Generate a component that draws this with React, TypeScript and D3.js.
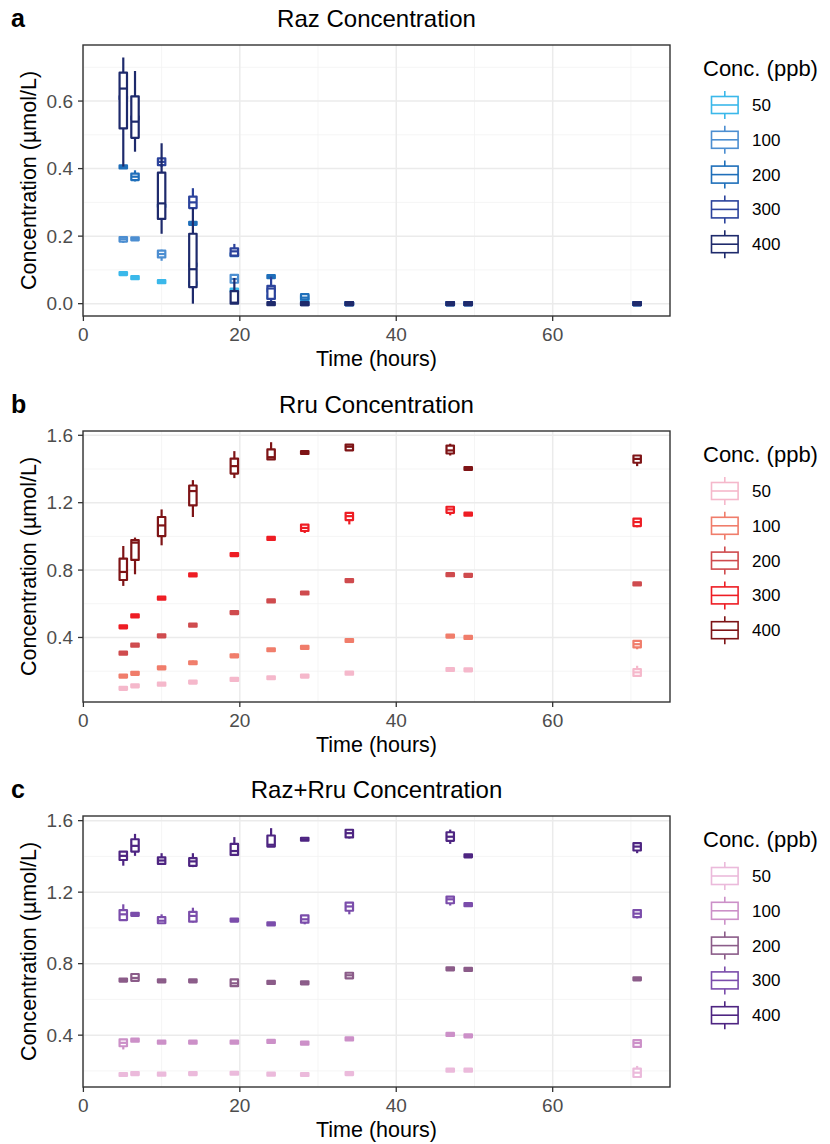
import React from 'react';
import * as d3 from 'd3';

type Box = number | number[];

const times = [5.1, 6.6, 10, 14, 19.3, 24, 28.3, 34, 46.9, 49.2, 70.8];
const levels = ['50', '100', '200', '300', '400'];
const xTicks = [0, 20, 40, 60];
const xMinor = [10, 30, 50, 70];

// Raz (panel a) - [min, q1, median, q3, max] or a single value for a tight box
const raz50: Box[] = [0.089, 0.077, 0.065, 0.06, 0.04, 0.02, 0.01, 0, 0, 0, 0];
const raz100: Box[] = [[0.18, 0.184, 0.191, 0.197, 0.198], 0.192, [0.127, 0.137, 0.147, 0.157, 0.16], 0.115, [0.06, 0.062, 0.073, 0.085, 0.088], 0.04, 0.02, 0, 0, 0, 0];
const raz200: Box[] = [0.405, [0.362, 0.366, 0.376, 0.385, 0.395], 0.29, 0.238, 0.145, [0.076, 0.078, 0.08, 0.083, 0.085], [0.01, 0.012, 0.018, 0.028, 0.03], 0, 0, 0, 0];
const raz300: Box[] = [0.61, 0.55, [0.405, 0.41, 0.42, 0.43, 0.432], [0.28, 0.283, 0.3, 0.317, 0.342], [0.14, 0.142, 0.155, 0.164, 0.177], [0, 0.014, 0.045, 0.053, 0.08], 0, 0, 0, 0, 0];
const raz400: Box[] = [[0.406, 0.519, 0.637, 0.684, 0.729], [0.45, 0.491, 0.539, 0.614, 0.689], [0.207, 0.251, 0.297, 0.388, 0.475], [0, 0.049, 0.102, 0.207, 0.283], [0, 0, 0.003, 0.037, 0.076], 0, 0, 0, 0, 0, 0];

// Rru (panel b)
const rru50: Box[] = [0.098, 0.113, 0.123, 0.135, 0.151, 0.161, 0.171, 0.188, 0.21, 0.208, [0.172, 0.172, 0.193, 0.212, 0.232]];
const rru100: Box[] = [[0.16, 0.163, 0.171, 0.178, 0.18], [0.18, 0.182, 0.187, 0.193, 0.198], [0.212, 0.214, 0.22, 0.228, 0.232], [0.243, 0.245, 0.25, 0.258, 0.263], [0.284, 0.286, 0.291, 0.298, 0.305], 0.327, 0.341, 0.382, 0.408, 0.4, [0.33, 0.341, 0.36, 0.38, 0.38]];
const rru200: Box[] = [0.307, 0.354, [0.402, 0.404, 0.41, 0.416, 0.42], 0.473, [0.54, 0.542, 0.548, 0.556, 0.562], 0.617, 0.664, [0.732, 0.734, 0.738, 0.745, 0.748], 0.773, 0.769, [0.712, 0.713, 0.718, 0.724, 0.727]];
const rru300: Box[] = [[0.457, 0.459, 0.463, 0.468, 0.47], 0.528, [0.628, 0.63, 0.633, 0.639, 0.64], [0.765, 0.767, 0.771, 0.777, 0.777], [0.886, 0.888, 0.892, 0.897, 0.897], [0.982, 0.984, 0.988, 0.996, 0.996], [1.02, 1.032, 1.05, 1.07, 1.07], [1.071, 1.097, 1.12, 1.14, 1.14], [1.125, 1.14, 1.16, 1.176, 1.176], 1.132, [1.054, 1.061, 1.085, 1.105, 1.105]];
const rru400: Box[] = [[0.706, 0.741, 0.789, 0.868, 0.943], [0.775, 0.86, 0.963, 0.978, 0.993], [0.947, 1.002, 1.065, 1.115, 1.16], [1.115, 1.184, 1.269, 1.302, 1.334], [1.346, 1.373, 1.417, 1.462, 1.506], [1.457, 1.457, 1.47, 1.516, 1.559], 1.498, [1.511, 1.511, 1.532, 1.545, 1.545], [1.48, 1.492, 1.51, 1.539, 1.55], 1.403, [1.417, 1.437, 1.46, 1.48, 1.48]];

// Raz+Rru (panel c)
const sum50: Box[] = [0.18, 0.185, 0.182, 0.185, 0.187, 0.182, 0.18, 0.185, 0.204, 0.204, [0.166, 0.166, 0.19, 0.213, 0.228]];
const sum100: Box[] = [[0.32, 0.338, 0.357, 0.376, 0.376], 0.372, 0.361, 0.361, 0.361, 0.365, 0.355, 0.379, 0.404, 0.396, [0.33, 0.334, 0.356, 0.372, 0.372]];
const sum200: Box[] = [0.708, [0.704, 0.704, 0.72, 0.742, 0.742], 0.704, 0.704, [0.67, 0.674, 0.69, 0.712, 0.712], 0.695, 0.693, [0.718, 0.718, 0.735, 0.749, 0.749], 0.771, 0.768, 0.715];
const sum300: Box[] = [[1.044, 1.044, 1.076, 1.1, 1.132], 1.076, [1.026, 1.026, 1.04, 1.06, 1.076], [1.03, 1.035, 1.067, 1.09, 1.113], 1.044, 1.022, [1.02, 1.029, 1.048, 1.07, 1.07], [1.076, 1.096, 1.12, 1.141, 1.141], [1.125, 1.138, 1.16, 1.175, 1.175], 1.13, [1.053, 1.06, 1.08, 1.1, 1.1]];
const sum400: Box[] = [[1.348, 1.38, 1.403, 1.427, 1.427], [1.403, 1.427, 1.459, 1.496, 1.526], [1.358, 1.358, 1.377, 1.395, 1.418], [1.34, 1.347, 1.372, 1.39, 1.418], [1.408, 1.408, 1.43, 1.47, 1.508], [1.455, 1.455, 1.465, 1.517, 1.558], 1.496, [1.5, 1.506, 1.53, 1.549, 1.549], [1.47, 1.487, 1.51, 1.535, 1.55], 1.403, [1.418, 1.433, 1.455, 1.474, 1.474]];

const bluePal = ['#3bb8ea', '#4c8ed1', '#1f6fba', '#2c439c', '#1e2a6c'];
const redPal = ['#f5b8cb', '#f07d6b', '#cf4b4e', '#ee1d24', '#7e1416'];
const purplePal = ['#ebbadb', '#cc90c8', '#8b5c89', '#7b4dab', '#4e2582'];

const FONT = '"Liberation Sans", Arial, Helvetica, sans-serif';
const left = 83;
const right = 670;
const plotH = 271;

function Panel({ letter, title, top, yDomain, yTicks, yMinor, palette, series }) {
  const x = d3.scaleLinear().domain([-0.05, 75]).range([left, right]);
  const y = d3.scaleLinear().domain(yDomain).range([top + plotH, top]);
  const bottom = top + plotH;
  const boxW = x(0.95) - x(0);
  const fmt = d3.format('.1f');

  const boxes = series.map((vals: Box[], li: number) =>
    vals.map((b, ti) => {
      const s = typeof b === 'number' ? [b, b, b, b, b] : b;
      const cx = x(times[ti]);
      const ym = y(s[2]);
      let y1 = y(s[3]);
      let y0 = y(s[1]);
      if (y0 - y1 < 3) {
        y1 = ym - 1.5;
        y0 = ym + 1.5;
      }
      const col = palette[li];
      return (
        <g key={`${li}-${ti}`} stroke={col} strokeWidth={2.2}>
          {y(s[4]) < y1 && <line x1={cx} x2={cx} y1={y(s[4])} y2={y1} />}
          {y(s[0]) > y0 && <line x1={cx} x2={cx} y1={y0} y2={y(s[0])} />}
          <rect x={cx - boxW / 2} y={y1} width={boxW} height={y0 - y1} fill="#fff" strokeLinejoin="round" />
          <line x1={cx - boxW / 2} x2={cx + boxW / 2} y1={ym} y2={ym} />
        </g>
      );
    })
  );

  const lx = 711.5;
  const legTop = top + 23.5;

  return (
    <g fontFamily={FONT}>
      <text x={11} y={top - 18} fontSize={25} fontWeight="bold" fill="#000">{letter}</text>
      <text x={(left + right) / 2} y={top - 18} fontSize={24} textAnchor="middle" fill="#000">{title}</text>
      <rect x={left} y={top} width={right - left} height={plotH} fill="#fff" />
      {yMinor.map((v) => (
        <line key={'ym' + v} x1={left} x2={right} y1={y(v)} y2={y(v)} stroke="#f2f2f2" strokeWidth={0.8} />
      ))}
      {xMinor.map((v) => (
        <line key={'xm' + v} x1={x(v)} x2={x(v)} y1={top} y2={bottom} stroke="#f2f2f2" strokeWidth={0.8} />
      ))}
      {yTicks.map((v) => (
        <line key={'yg' + v} x1={left} x2={right} y1={y(v)} y2={y(v)} stroke="#ebebeb" strokeWidth={1.5} />
      ))}
      {xTicks.map((v) => (
        <line key={'xg' + v} x1={x(v)} x2={x(v)} y1={top} y2={bottom} stroke="#ebebeb" strokeWidth={1.5} />
      ))}
      {boxes}
      <rect x={left} y={top} width={right - left} height={plotH} fill="none" stroke="#333" strokeWidth={1.4} />
      {yTicks.map((v) => (
        <g key={'yt' + v}>
          <line x1={left - 5} x2={left} y1={y(v)} y2={y(v)} stroke="#333" strokeWidth={1.3} />
          <text x={left - 10} y={y(v)} dy="0.35em" fontSize={19} textAnchor="end" fill="#4d4d4d">{fmt(v)}</text>
        </g>
      ))}
      {xTicks.map((v) => (
        <g key={'xt' + v}>
          <line x1={x(v)} x2={x(v)} y1={bottom} y2={bottom + 5} stroke="#333" strokeWidth={1.3} />
          <text x={x(v)} y={bottom + 25} fontSize={19} textAnchor="middle" fill="#4d4d4d">{v}</text>
        </g>
      ))}
      <text x={(left + right) / 2} y={bottom + 50} fontSize={21.5} textAnchor="middle" fill="#000">Time (hours)</text>
      <text transform={`translate(28,${top + plotH / 2}) rotate(-90)`} dy="0.35em" fontSize={21.5} textAnchor="middle" fill="#000">Concentration (µmol/L)</text>
      <text x={703} y={legTop} dy="0.35em" fontSize={22} fill="#000">Conc. (ppb)</text>
      {levels.map((lv, i) => {
        const cy = top + 60 + i * 34.8;
        return (
          <g key={'lg' + lv}>
            <g stroke={palette[i]} strokeWidth={1.6}>
              <line x1={lx + 13.3} x2={lx + 13.3} y1={cy - 14} y2={cy + 14} />
              <rect x={lx} y={cy - 8.5} width={26.6} height={17} fill="#fff" />
              <line x1={lx} x2={lx + 26.6} y1={cy} y2={cy} />
            </g>
            <text x={752} y={cy} dy="0.35em" fontSize={17} fill="#000">{lv}</text>
          </g>
        );
      })}
    </g>
  );
}

export default function App() {
  return (
    <svg width={830} height={1144} style={{ position: 'absolute', left: 0, top: 0, background: '#fff' }}>
      <rect width={830} height={1144} fill="#fff" />
      <Panel letter="a" title="Raz Concentration" top={45} yDomain={[-0.0365, 0.766]}
        yTicks={[0, 0.2, 0.4, 0.6]} yMinor={[0.1, 0.3, 0.5, 0.7]} palette={bluePal}
        series={[raz50, raz100, raz200, raz300, raz400]} />
      <Panel letter="b" title="Rru Concentration" top={431} yDomain={[0.017, 1.6255]}
        yTicks={[0.4, 0.8, 1.2, 1.6]} yMinor={[0.2, 0.6, 1.0, 1.4]} palette={redPal}
        series={[rru50, rru100, rru200, rru300, rru400]} />
      <Panel letter="c" title="Raz+Rru Concentration" top={816} yDomain={[0.11, 1.626]}
        yTicks={[0.4, 0.8, 1.2, 1.6]} yMinor={[0.2, 0.6, 1.0, 1.4]} palette={purplePal}
        series={[sum50, sum100, sum200, sum300, sum400]} />
    </svg>
  );
}
